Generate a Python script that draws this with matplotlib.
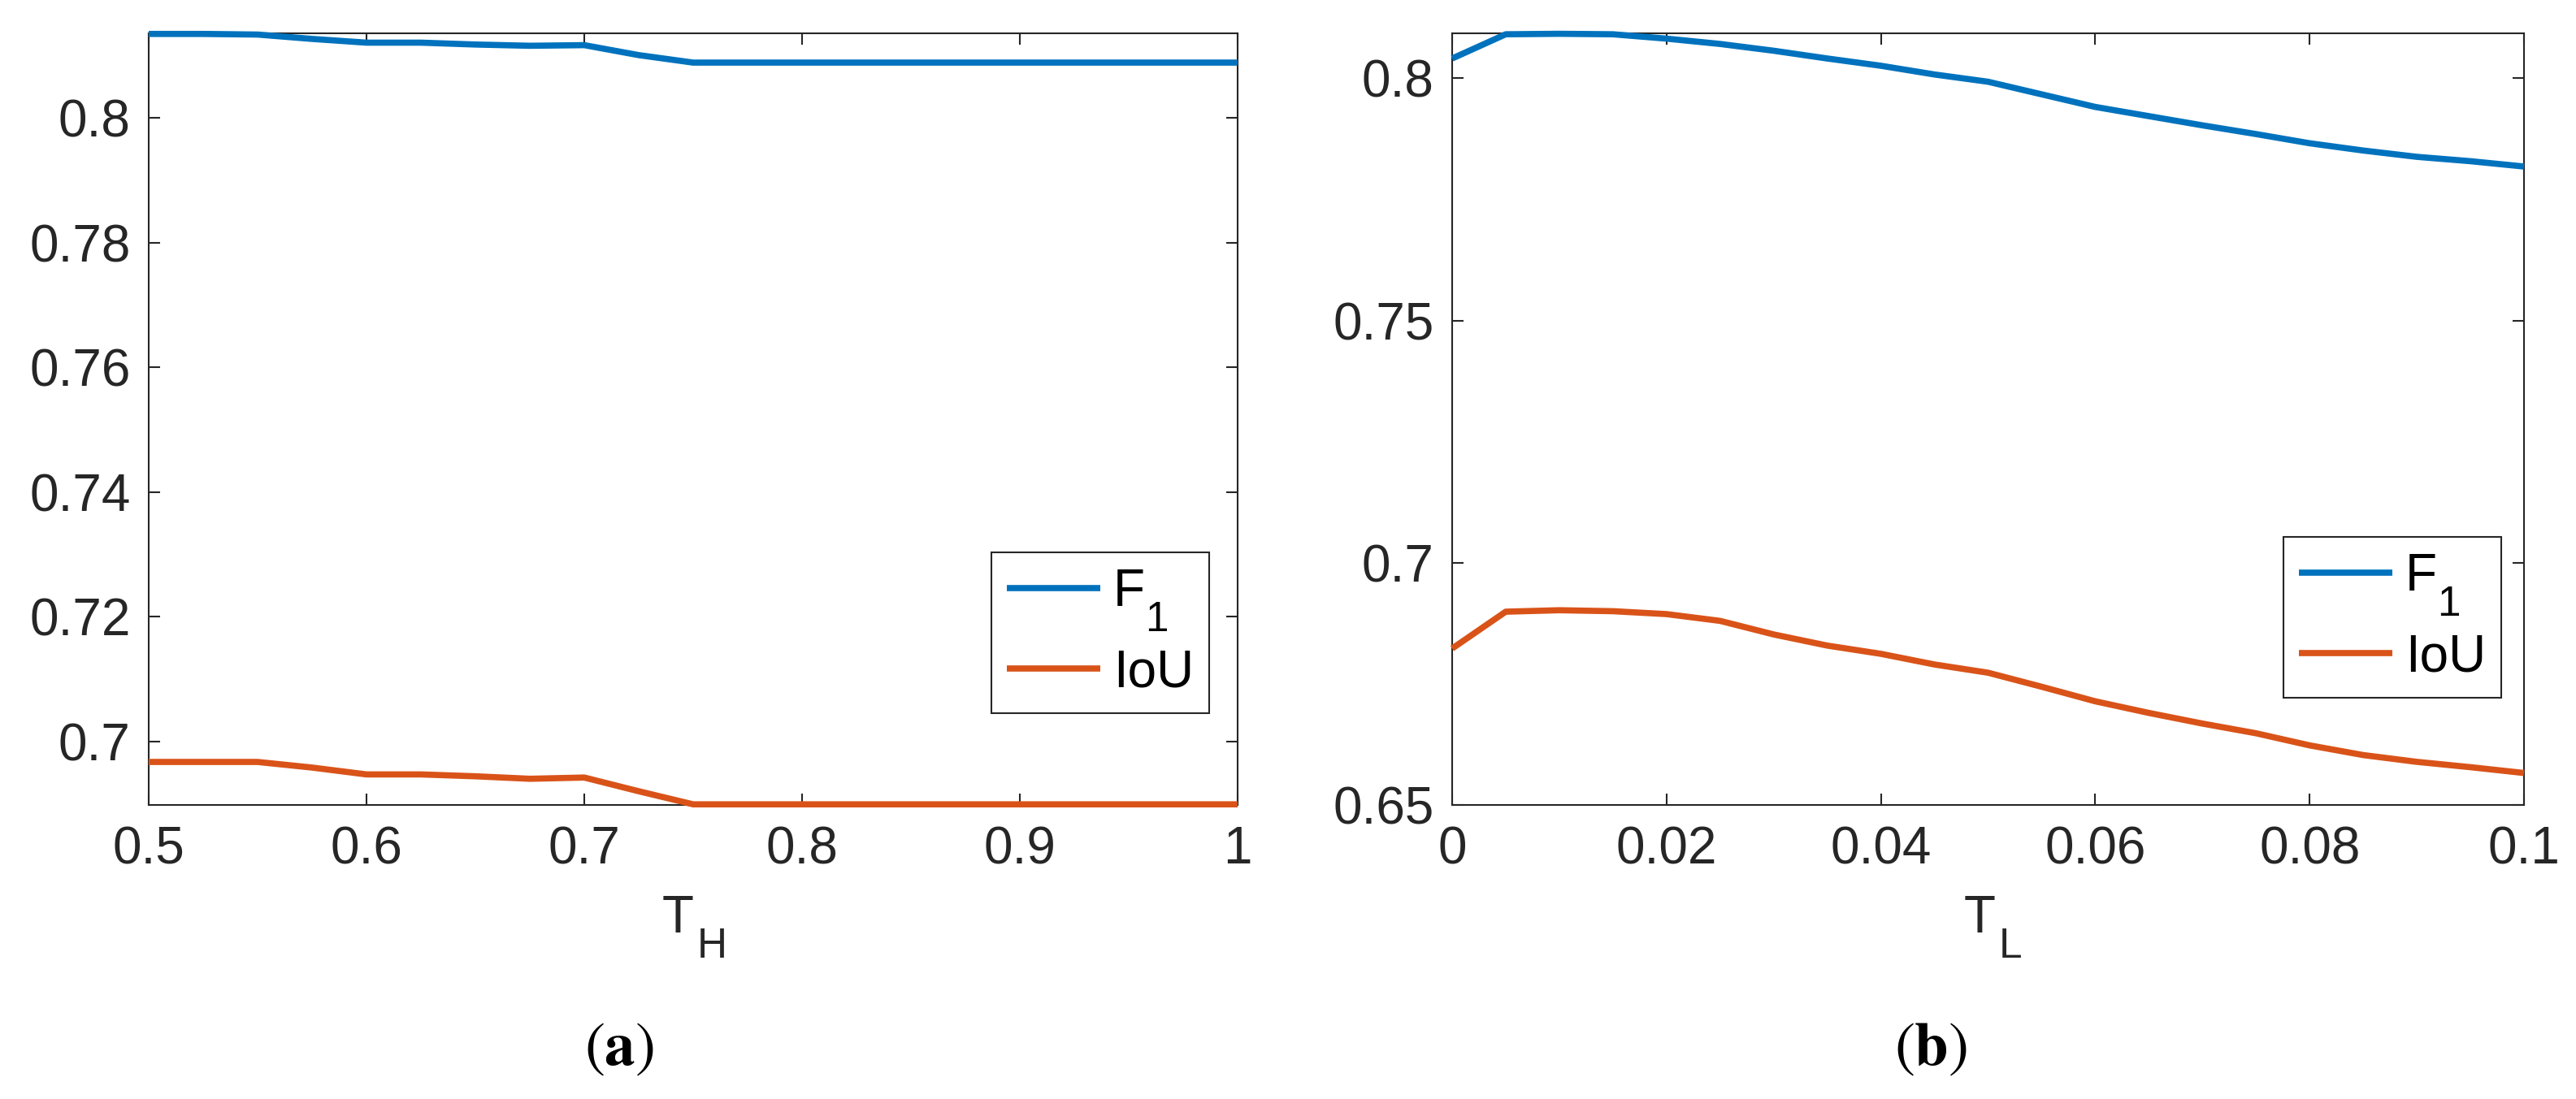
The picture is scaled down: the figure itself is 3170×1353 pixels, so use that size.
import matplotlib
matplotlib.use('Agg')
import matplotlib.pyplot as plt
from matplotlib.ticker import FixedLocator, FixedFormatter

plt.rcParams['font.family'] = ['Liberation Sans', 'DejaVu Sans']
plt.rcParams['mathtext.fontset'] = 'custom'
plt.rcParams['mathtext.rm'] = 'Liberation Sans'

# ---------------- data ----------------
TH = [0.5, 0.525, 0.55, 0.575, 0.6, 0.625, 0.65, 0.675, 0.7, 0.725, 0.75,
      0.775, 0.8, 0.825, 0.85, 0.875, 0.9, 0.925, 0.95, 0.975, 1.0]
F1_TH = [0.8135, 0.8135, 0.8134, 0.8127, 0.8121, 0.8121, 0.8118, 0.8116, 0.8117, 0.8101, 0.8089,
         0.8089, 0.8089, 0.8089, 0.8089, 0.8089, 0.8089, 0.8089, 0.8089, 0.8089, 0.8089]
IoU_TH = [0.6967, 0.6967, 0.6967, 0.6958, 0.6947, 0.6947, 0.6944, 0.6940, 0.6942, 0.6920, 0.6899,
          0.6899, 0.6899, 0.6899, 0.6899, 0.6899, 0.6899, 0.6899, 0.6899, 0.6899, 0.6899]

TL = [0.0, 0.005, 0.01, 0.015, 0.02, 0.025, 0.03, 0.035, 0.04, 0.045, 0.05,
      0.055, 0.06, 0.065, 0.07, 0.075, 0.08, 0.085, 0.09, 0.095, 0.1]
F1_TL = [0.8041, 0.8091, 0.8092, 0.8091, 0.8082, 0.8071, 0.8057, 0.8041, 0.8026, 0.8008, 0.7993,
         0.7967, 0.7941, 0.7922, 0.7903, 0.7885, 0.7866, 0.7851, 0.7838, 0.7829, 0.7818]
IoU_TL = [0.6823, 0.6899, 0.6902, 0.6900, 0.6894, 0.6880, 0.6852, 0.6829, 0.6812, 0.6790, 0.6773,
          0.6744, 0.6714, 0.6690, 0.6668, 0.6648, 0.6623, 0.6603, 0.6589, 0.6578, 0.6566]

# labels: (main text, subscript)
series_labels = [('F', '1'), ('IoU', '')]
xlabel_a = ('T', 'H')
xlabel_b = ('T', 'L')
caption_a = '$(\\mathbf{a})$'
caption_b = '$(\\mathbf{b})$'

xticks_a = [0.5, 0.6, 0.7, 0.8, 0.9, 1.0]
xticklabels_a = ['0.5', '0.6', '0.7', '0.8', '0.9', '1']
yticks_a = [0.7, 0.72, 0.74, 0.76, 0.78, 0.8]
yticklabels_a = ['0.7', '0.72', '0.74', '0.76', '0.78', '0.8']
xticks_b = [0.0, 0.02, 0.04, 0.06, 0.08, 0.1]
xticklabels_b = ['0', '0.02', '0.04', '0.06', '0.08', '0.1']
yticks_b = [0.65, 0.7, 0.75, 0.8]
yticklabels_b = ['0.65', '0.7', '0.75', '0.8']

# ---------------- style ----------------
W, H = 3170, 1353
FS = 46
SUB_FS = 37
AX_COL = '#262626'
C_F1 = '#0072BD'
C_IOU = '#D95319'
LW = 5.5

fig = plt.figure(figsize=(W / 100, H / 100), dpi=100)
axA = fig.add_axes([183 / W, 1 - 991 / H, 1340 / W, 950 / H])
axB = fig.add_axes([1787 / W, 1 - 991 / H, 1319 / W, 950 / H])


def style(ax, x, f1, iou, xlim, ylim, xt, xtl, yt, ytl, xlabel, xlabel_x, leg_anchor):
    l1, = ax.plot(x, f1, color=C_F1, lw=LW, clip_on=False, zorder=3, solid_capstyle='butt')
    l2, = ax.plot(x, iou, color=C_IOU, lw=LW, clip_on=False, zorder=3, solid_capstyle='butt')
    ax.set_xlim(*xlim)
    ax.set_ylim(*ylim)
    ax.xaxis.set_major_locator(FixedLocator(xt))
    ax.xaxis.set_major_formatter(FixedFormatter(xtl))
    ax.yaxis.set_major_locator(FixedLocator(yt))
    ax.yaxis.set_major_formatter(FixedFormatter(ytl))
    ax.tick_params(direction='in', length=10, width=1.5, top=True, right=True,
                   labelsize=FS, colors=AX_COL)
    ax.tick_params(axis='y', pad=16)
    ax.tick_params(axis='x', pad=18)
    for s in ax.spines.values():
        s.set_linewidth(1.5)
        s.set_color(AX_COL)
        s.set_zorder(2.5)
    # x label: main letter + lowered subscript (MATLAB TeX style)
    ax.set_xlabel(xlabel[0], fontsize=FS, color=AX_COL)
    ax.xaxis.set_label_coords(xlabel_x, -0.1158)
    ax.annotate(xlabel[1], xy=(1, 0), xycoords=ax.xaxis.label, xytext=(3, -13.3),
                textcoords='offset points', fontsize=SUB_FS, color=AX_COL,
                ha='left', va='baseline', zorder=6, annotation_clip=False)
    leg = ax.legend([l1, l2], [s[0] for s in series_labels], loc='upper left',
                    bbox_to_anchor=leg_anchor, borderaxespad=0, fontsize=FS, frameon=True,
                    fancybox=False, edgecolor=AX_COL, framealpha=1, handlelength=1.8,
                    handletextpad=0.25, borderpad=0.3, labelspacing=0.62)
    leg.get_frame().set_linewidth(1.5)
    for txt, (_, sub) in zip(leg.get_texts(), series_labels):
        if sub:
            ax.annotate(sub, xy=(1, 0), xycoords=txt, xytext=(0, -12.6),
                        textcoords='offset points', fontsize=SUB_FS, color='black',
                        ha='left', va='baseline', zorder=7, annotation_clip=False)


style(axA, TH, F1_TH, IoU_TH, (0.5, 1.0), (0.6898, 0.8136),
      xticks_a, xticklabels_a, yticks_a, yticklabels_a, xlabel_a, 0.486, (0.7739, 0.3274))
style(axB, TL, F1_TL, IoU_TL, (0.0, 0.1), (0.65, 0.8093),
      xticks_b, xticklabels_b, yticks_b, yticklabels_b, xlabel_b, 0.492, (0.7756, 0.3474))

fig.text(762 / W, 1 - 1292 / H, caption_a, math_fontfamily='stix', fontsize=54,
         ha='center', va='center', color='black')
fig.text(2376 / W, 1 - 1292 / H, caption_b, math_fontfamily='stix', fontsize=54,
         ha='center', va='center', color='black')

fig.canvas.draw()
fig.savefig('out.png', dpi=100, facecolor='white')
